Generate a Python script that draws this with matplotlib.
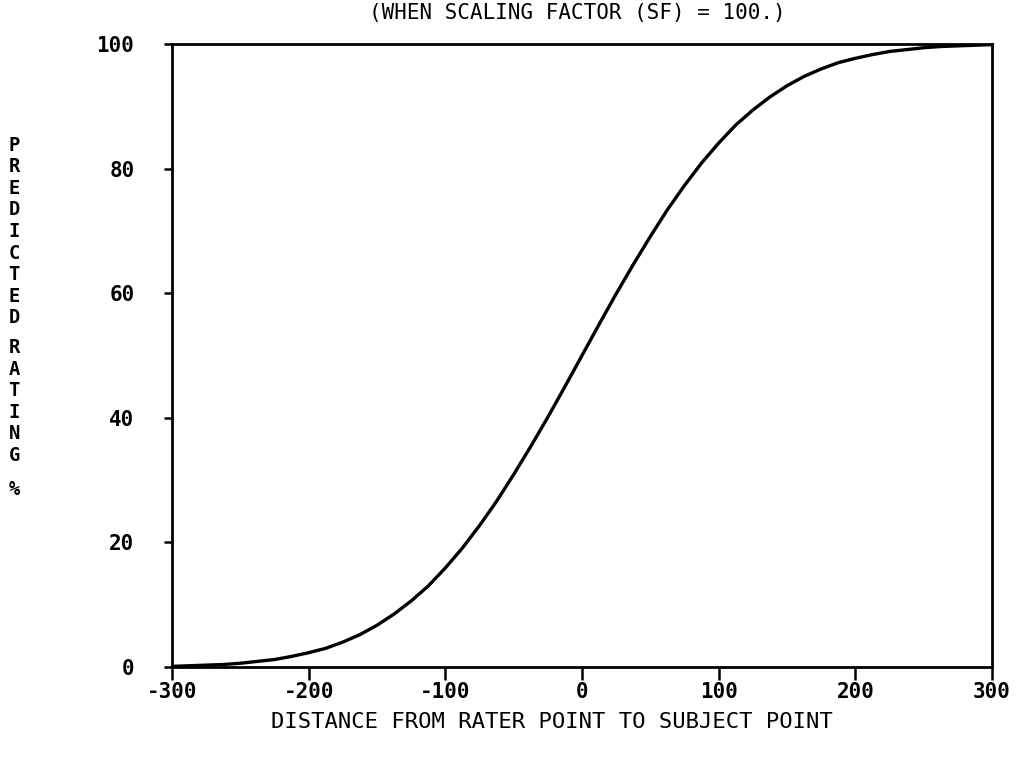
import matplotlib
matplotlib.use("Agg")
import matplotlib.pyplot as plt

# Values
distance = [-300, -287.5, -275, -262.5, -250, -237.5, -225, -212.5, -200, -187.5,
            -175, -162.5, -150, -137.5, -125, -112.5, -100, -87.5, -75, -62.5,
            -50, -37.5, -25, -12.5, 0, 12.5, 25, 37.5, 50, 62.5, 75, 87.5,
            100, 112.5, 125, 137.5, 150, 162.5, 175, 187.5, 200, 212.5, 225,
            237.5, 250, 262.5, 275, 287.5, 300]
rating = [0.1, 0.2, 0.3, 0.4, 0.6, 0.9, 1.2, 1.7, 2.3, 3.0,
          4.0, 5.2, 6.7, 8.5, 10.6, 13.0, 15.9, 19.1, 22.7, 26.6,
          30.9, 35.4, 40.1, 45.0, 50.0, 55.0, 59.9, 64.6, 69.1, 73.4, 77.3, 80.9,
          84.1, 87.0, 89.4, 91.5, 93.3, 94.8, 96.0, 97.0, 97.7, 98.3, 98.8,
          99.1, 99.4, 99.6, 99.7, 99.8, 99.9]

x_ticks = [-300, -200, -100, 0, 100, 200, 300]
y_ticks = [0, 20, 40, 60, 80, 100]

title = "(WHEN SCALING FACTOR (SF) = 100.)"
xlabel = "DISTANCE FROM RATER POINT TO SUBJECT POINT"
ylabel_parts = ["PREDICTED", "RATING", "%"]

W, H = 1019, 759
fig = plt.figure(figsize=(W / 100, H / 100), dpi=100)
ax = fig.add_axes([172 / W, 1 - 667 / H, (992 - 172) / W, (667 - 44) / H])

ax.plot(distance, rating, color="black", linewidth=2.4, solid_capstyle="round")
ax.set_xlim(-300, 300)
ax.set_ylim(0, 100)
ax.set_xticks(x_ticks)
ax.set_yticks(y_ticks)

mono = "DejaVu Sans Mono"
ax.set_xticklabels([str(v) for v in x_ticks], family=mono, fontsize=15, fontweight="bold")
ax.set_yticklabels([str(v) for v in y_ticks], family=mono, fontsize=15, fontweight="bold")
ax.tick_params(axis="x", direction="out", length=9, width=1.8, pad=2, color="black")
ax.tick_params(axis="y", direction="out", length=6, width=1.8, pad=21, color="black")
for s in ax.spines.values():
    s.set_linewidth(2.0)
    s.set_color("black")

fig.text(577 / W, 1 - 13 / H, title, family=mono, fontsize=15,
         ha="center", va="center")
fig.text(552 / W, 1 - 722 / H, xlabel, family=mono, fontsize=16,
         ha="center", va="center")

# stacked vertical y label
centers = [231.5, 401.5, 489]
for part, cy in zip(ylabel_parts, centers):
    fig.text(14 / W, 1 - cy / H, "\n".join(part), family=mono, fontsize=13.5,
             fontweight="bold", ha="center", va="center", linespacing=1.17,
             multialignment="center")

fig.savefig("out.png", dpi=100, facecolor="white")
